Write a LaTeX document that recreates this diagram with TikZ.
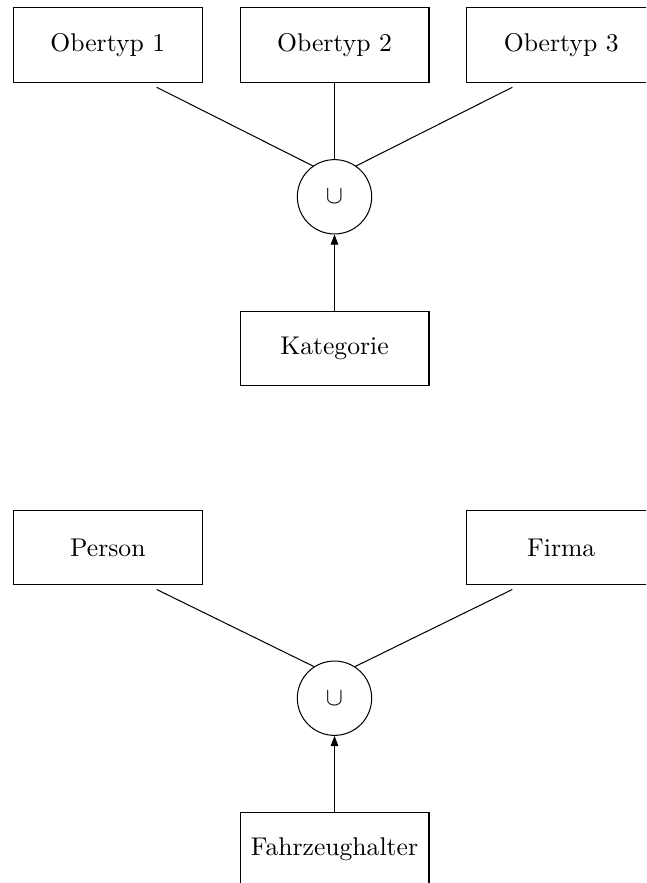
\documentclass[tikz,border=0pt]{standalone}
\usetikzlibrary{arrows.meta}
\begin{document}
\begin{tikzpicture}[x=0.39pt,y=-0.39pt,
  entity/.style={draw, rectangle, minimum width=73.7pt, minimum height=29pt, inner sep=0pt},
  unionnode/.style={draw, circle, minimum size=29pt, inner sep=0pt},
  link/.style={draw},
  isa/.style={draw, -{Triangle[length=4pt,width=3pt]}}]
\clip (0,0) rectangle (646,883);

% upper category: three supertypes joined by a union
\node[entity] (ober1) at (107.8,44.9) {Obertyp 1};
\node[entity] (ober2) at (334.5,44.9) {Obertyp 2};
\node[entity] (ober3) at (561.2,44.9) {Obertyp 3};
\node[unionnode] (u1) at (334.5,196.8) {$\cup$};
\node[entity] (kat) at (334.5,348.3) {Kategorie};

\coordinate (l1) at (156.7,87.3);
\coordinate (r1) at (512.3,87.3);
\path[link] (l1) -- (u1.125);
\path[link] (r1) -- (u1.55);
\path[link] (ober2.south) -- (u1.north);
\path[isa] (kat.north) -- (u1.south);

% lower category: vehicle owner
\node[entity] (person) at (107.8,547.5) {Person};
\node[entity] (firma) at (561.2,547.5) {Firma};
\node[unionnode] (u2) at (334.5,698.2) {$\cup$};
\node[entity] (halter) at (334.5,849.4) {Fahrzeughalter};

\coordinate (l2) at (156.7,589.5);
\coordinate (r2) at (512.3,589.5);
\path[link] (l2) -- (u2.123);
\path[link] (r2) -- (u2.57);
\path[isa] (halter.north) -- (u2.south);
\end{tikzpicture}
\end{document}
